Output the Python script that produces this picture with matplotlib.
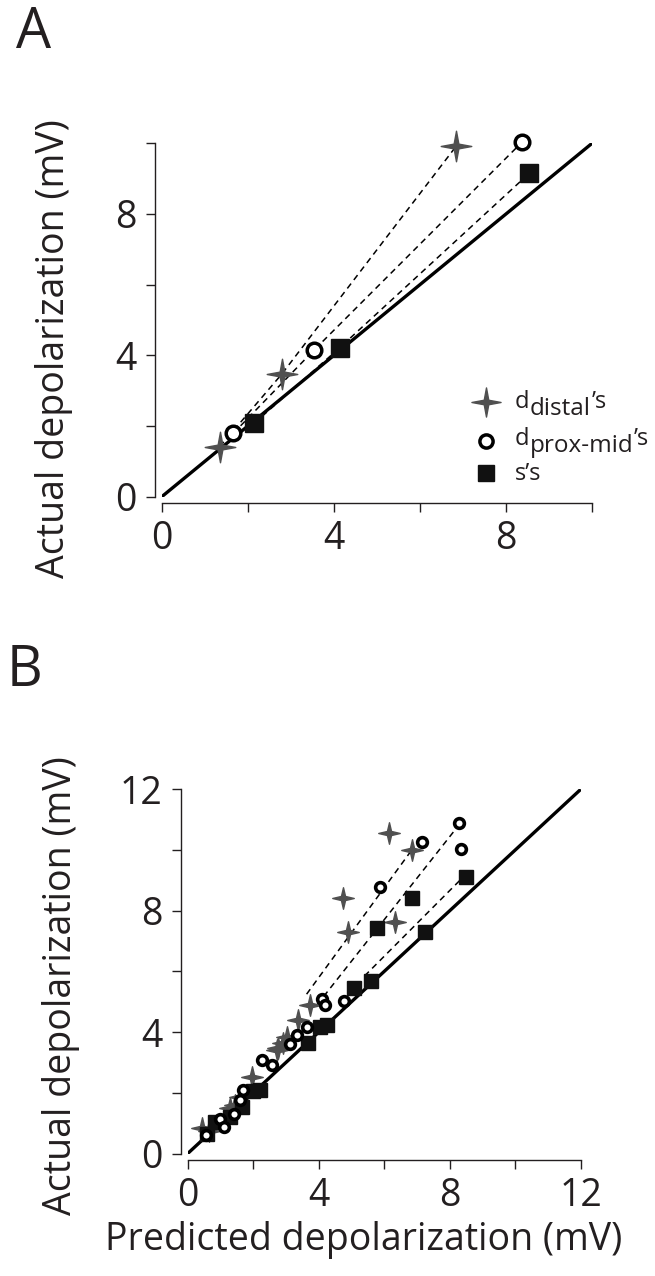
import numpy as np
import matplotlib
matplotlib.use('Agg')
import matplotlib.pyplot as plt
from matplotlib.path import Path

plt.rcParams['font.family'] = ['Open Sans', 'DejaVu Sans']

# ---- panel A data (predicted, actual) in mV
a_dist_x = [1.35, 2.79, 6.85]
a_dist_y = [1.42, 3.47, 9.93]
a_prox_x = [1.66, 3.54, 8.37]
a_prox_y = [1.79, 4.15, 10.03]
a_soma_x = [2.15, 4.14, 8.54]
a_soma_y = [2.08, 4.22, 9.15]

# ---- panel B data
b_dist_x = [0.45, 0.65, 1.29, 1.45, 1.60, 1.95, 2.72, 2.77, 2.92, 3.02, 3.38, 3.73,
            4.75, 4.90, 6.15, 6.33, 6.84]
b_dist_y = [0.85, 0.75, 1.49, 1.60, 1.87, 2.53, 3.41, 3.47, 3.63, 3.85, 4.40, 4.89,
            8.43, 7.31, 10.57, 7.62, 10.00]
b_prox_x = [0.55, 1.00, 1.10, 1.40, 1.60, 1.70, 2.26, 2.56, 3.12, 3.33, 3.63, 4.09,
            4.19, 4.77, 5.87, 7.14, 8.29, 8.34]
b_prox_y = [0.60, 1.15, 0.88, 1.30, 1.75, 2.09, 3.08, 2.93, 3.60, 3.90, 4.18, 5.09,
            4.90, 5.03, 8.77, 10.27, 10.90, 10.02]
b_soma_x = [0.60, 0.83, 1.29, 1.65, 2.00, 2.21, 3.68, 4.04, 4.24, 5.08, 5.59, 5.79,
            6.84, 7.25, 8.50]
b_soma_y = [0.65, 1.05, 1.21, 1.54, 2.05, 2.09, 3.63, 4.18, 4.23, 5.44, 5.69, 7.42,
            8.41, 7.29, 9.12]
# dashed fit lines in B (x pair, y pair)
b_fit_dist = ([3.63, 6.84], [5.25, 10.00])
b_fit_prox = ([3.95, 8.16], [4.90, 10.66])
b_fit_soma = ([5.40, 8.42], [5.85, 9.12])

legend_main = ['d', 'd', 's\u2019s']
legend_sub = ['distal', 'prox-mid', '']
legend_tail = ['\u2019s', '\u2019s', '']

grey = '#505050'
blk = '#111111'
ink = '#231f20'


def sparkle(inner):
    # 4-pointed star marker outline
    ang = np.arange(8) * np.pi / 4 + np.pi / 2
    rad = np.where(np.arange(8) % 2 == 0, 1.0, inner)
    v = np.column_stack([rad * np.cos(ang), rad * np.sin(ang)]).tolist()
    return Path(v + [v[0]], [Path.MOVETO] + [Path.LINETO] * 7 + [Path.CLOSEPOLY])


starA = sparkle(0.22)
starB = sparkle(0.27)

fig = plt.figure(figsize=(6.55, 12.76), dpi=100)


def style(ax, lim):
    ax.set_xlim(0, lim)
    ax.set_ylim(0, lim)
    for s in ['top', 'right']:
        ax.spines[s].set_visible(False)
    for s in ['left', 'bottom']:
        ax.spines[s].set_position(('outward', 4.5))
        ax.spines[s].set_linewidth(1.0)
        ax.spines[s].set_color(ink)
    ticks = np.arange(0, lim + 0.1, 2)
    lab = [str(int(v)) if v % 4 == 0 else '' for v in ticks]
    ax.set_xticks(ticks)
    ax.set_yticks(ticks)
    ax.set_xticklabels(lab)
    ax.set_yticklabels(lab)
    ax.tick_params(direction='out', length=6.5, width=1.0, color=ink,
                   labelsize=27, labelcolor=ink)
    ax.tick_params(axis='x', pad=6)
    ax.tick_params(axis='y', pad=7)
    ax.plot([0, lim], [0, lim], color='black', lw=2.4, zorder=2, solid_capstyle='butt')


# ---- A
axA = fig.add_axes([0.2469, 0.6107, 0.657, 0.277])
style(axA, 10)
for xs, ys in [(a_dist_x, a_dist_y), (a_prox_x, a_prox_y), (a_soma_x, a_soma_y)]:
    axA.plot(xs, ys, ls=(0, (4, 3)), color='black', lw=1.1, zorder=3)
axA.plot(a_dist_x, a_dist_y, ls='none', marker=starA, ms=22, color=grey, mec=grey,
         zorder=4, clip_on=False)
axA.plot(a_prox_x, a_prox_y, ls='none', marker='o', ms=10.5, mfc='white', mec='black',
         mew=2.5, zorder=5, clip_on=False)
axA.plot(a_soma_x, a_soma_y, ls='none', marker='s', ms=13, color=blk, zorder=5,
         clip_on=False)
axA.set_ylabel('Actual depolarization (mV)', fontsize=27, color=ink)
axA.yaxis.set_label_coords(-0.206, 0.418)

# hand-built legend (subscripts as large as the main text)
mk_x = 0.754
row_y = [0.2688, 0.1576, 0.0679]
txt_y = [0.251, 0.1463, 0.0473]
axA.plot(mk_x, row_y[0], marker=starA, ms=21, color=grey, transform=axA.transAxes,
         clip_on=False)
axA.plot(mk_x, row_y[1], marker='o', ms=9.5, mfc='white', mec='black', mew=2.5,
         transform=axA.transAxes, clip_on=False)
axA.plot(mk_x, row_y[2], marker='s', ms=11.5, color=blk, transform=axA.transAxes,
         clip_on=False)
for i in range(3):
    t1 = axA.text(0.821, txt_y[i], legend_main[i], transform=axA.transAxes,
                  fontsize=17, color=ink, va='baseline', ha='left')
    if legend_sub[i]:
        t2 = axA.annotate(legend_sub[i], xy=(1, 0), xycoords=t1, xytext=(0.3, -5),
                          textcoords='offset points', fontsize=17.5, color=ink,
                          va='bottom', ha='left')
        axA.annotate(legend_tail[i], xy=(1, 0), xycoords=t2, xytext=(0.3, 5),
                     textcoords='offset points', fontsize=17, color=ink,
                     va='bottom', ha='left')

# ---- B
axB = fig.add_axes([0.2866, 0.0960, 0.600, 0.2854])
style(axB, 12)
for xs, ys in [b_fit_dist, b_fit_prox, b_fit_soma]:
    axB.plot(xs, ys, ls=(0, (4, 3)), color='black', lw=1.1, zorder=3)
axB.plot(b_dist_x, b_dist_y, ls='none', marker=starB, ms=15.5, color=grey, mec=grey, zorder=4)
axB.plot(b_soma_x, b_soma_y, ls='none', marker='s', ms=9.5, color=blk, zorder=5)
axB.plot(b_prox_x, b_prox_y, ls='none', marker='o', ms=7, mfc='white', mec='black',
         mew=2.6, zorder=6)
axB.set_ylabel('Actual depolarization (mV)', fontsize=27, color=ink)
axB.yaxis.set_label_coords(-0.274, 0.46)
axB.set_xlabel('Predicted depolarization (mV)', fontsize=27, color=ink)
axB.xaxis.set_label_coords(0.447, -0.185)

fig.text(0.025, 1 - 47.7 / 1276, 'A', fontsize=40, color=ink, va='baseline')
fig.text(0.010, 1 - 686 / 1276, 'B', fontsize=40, color=ink, va='baseline')

fig.savefig('out.png', dpi=100)
